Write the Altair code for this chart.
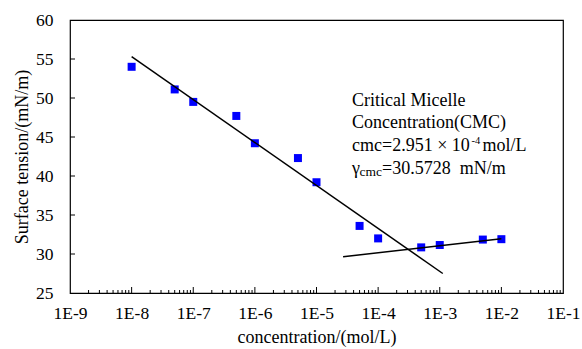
import altair as alt
import pandas as pd

# Measured surface tension versus surfactant concentration
concentration = [1e-8, 5e-8, 1e-7, 5e-7, 1e-6, 5e-6, 1e-5, 5e-5, 1e-4, 5e-4, 1e-3, 5e-3, 1e-2]
tension = [54.0, 51.1, 49.5, 47.7, 44.2, 42.3, 39.2, 33.6, 32.0, 30.85, 31.15, 31.85, 31.9]

# Fitted lines below and above the CMC
fit_below_x = [1e-8, 1.12e-3]
fit_below_y = [55.3, 27.5]
fit_above_x = [2.7e-5, 1e-2]
fit_above_y = [29.65, 31.95]

x_ticks = [1e-9, 1e-8, 1e-7, 1e-6, 1e-5, 1e-4, 1e-3, 1e-2, 1e-1]
y_ticks = [25, 30, 35, 40, 45, 50, 55, 60]

FONT = "Liberation Serif"
W, H = 493, 273

pts = pd.DataFrame({"c": concentration, "t": tension})
fits = pd.DataFrame({
    "c": fit_below_x + fit_above_x,
    "t": fit_below_y + fit_above_y,
    "seg": ["below"] * 2 + ["above"] * 2,
})
minor = pd.DataFrame({"c": [m * d for d in x_ticks[:-1] for m in range(2, 10)]})
major = pd.DataFrame({"c": x_ticks[1:-1]})
yt = pd.DataFrame({"t": y_ticks[1:-1]})

xs = alt.Scale(type="log", domain=[1e-9, 1e-1])
ys = alt.Scale(domain=[25, 60])

x_axis = alt.Axis(
    values=x_ticks, labelExpr="'1E' + round(log(datum.value) / LN10)",
    ticks=False, domain=False, grid=False, labelFontSize=17.5, labelFont=FONT,
    labelColor="black", labelPadding=11, title="concentration/(mol/L)",
    titleFont=FONT, titleFontSize=18, titleFontWeight="normal", titleColor="black",
    titlePadding=7, labelFlush=False, labelOverlap=False,
)
y_axis = alt.Axis(
    values=y_ticks, ticks=False, domain=False, grid=False, labelFontSize=17.5,
    labelFont=FONT, labelColor="black", labelPadding=17,
    title="Surface tension/(mN/m)", titleFont=FONT, titleFontSize=18,
    titleFontWeight="normal", titleColor="black", titlePadding=4,
    labelFlush=False, labelOverlap=False,
)

X = alt.X("c:Q", scale=xs, axis=x_axis)
Y = alt.Y("t:Q", scale=ys, axis=y_axis)

points = alt.Chart(pts).mark_square(size=64, color="#0000ff", opacity=1).encode(x=X, y=Y)

lines = alt.Chart(fits).mark_line(color="black", strokeWidth=1.5).encode(
    x=X, y=Y, detail="seg:N"
)

# Inward tick marks drawn along the bottom and left frame
minor_ticks = alt.Chart(minor).mark_rule(color="black", strokeWidth=1).encode(
    x=X, y=alt.value(H), y2=alt.value(H - 3)
)
major_ticks = alt.Chart(major).mark_rule(color="black", strokeWidth=1).encode(
    x=X, y=alt.value(H), y2=alt.value(H - 6)
)
y_tick_marks = alt.Chart(yt).mark_rule(color="black", strokeWidth=1).encode(
    y=Y, x=alt.value(0), x2=alt.value(5)
)


def label(text, x, y, size=18):
    return alt.Chart(pd.DataFrame({"s": [text]})).mark_text(
        font=FONT, fontSize=size, align="left", baseline="middle", color="black"
    ).encode(text="s:N", x=alt.value(x), y=alt.value(y))


ax = 282
notes = [
    label("Critical Micelle", ax, 81),
    label("Concentration(CMC)", ax, 102.5),
    label("cmc=2.951 × 10", ax, 125.5),
    label("-4", 401.5, 120.5, 10.5),
    label("mol/L", 412.5, 125.5),
    label("γ", ax, 148.5),
    label("cmc", 289.5, 152, 13.5),
    label("=30.5728\u00a0 mN/m", 312, 148.5),
]

chart = alt.layer(points, lines, minor_ticks, major_ticks, y_tick_marks, *notes).properties(
    width=W, height=H,
    autosize=alt.AutoSizeParams(type="none"),
    padding={"left": 70, "top": 20, "right": 19, "bottom": 56},
    background="white",
).configure_view(stroke="black", strokeWidth=1.2)

chart.save("out.html", embed_options={"renderer": "svg", "actions": False})
